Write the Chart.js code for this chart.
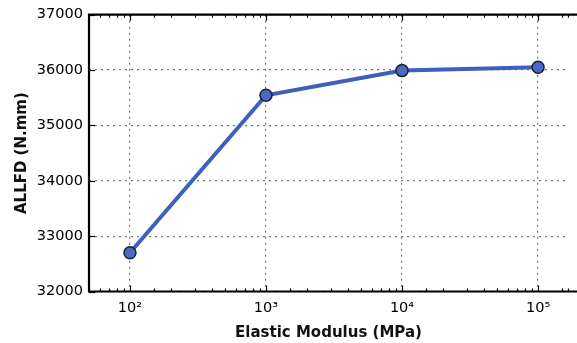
<!DOCTYPE html>
<html>
<head>
<meta charset="utf-8">
<script src="https://cdn.jsdelivr.net/npm/chart.js@4"></script>
<style>
  html, body { margin: 0; padding: 0; background: #fff; }
  #wrap { width: 577px; height: 343px; }
</style>
</head>
<body>
<div id="wrap"><canvas id="grafico"></canvas></div>
<script>
// dados
const modulos = [100, 1000, 10000, 100000];
const allfd = [32700, 35545, 35990, 36050];
const yTicks = [32000, 33000, 34000, 35000, 36000, 37000];
const sup = { '2': '²', '3': '³', '4': '⁴', '5': '⁵' };

const isDecade = v => Math.abs(Math.log10(v) - Math.round(Math.log10(v))) < 1e-9;

// desenha moldura e ticks internos (estilo matplotlib)
const molduraPlugin = {
    id: 'moldura',
    afterDraw(chart) {
        const { ctx, chartArea: a, scales } = chart;
        ctx.save();
        ctx.strokeStyle = '#000';
        ctx.lineWidth = 1.2;
        scales.x.ticks.forEach(t => {
            const px = Math.round(scales.x.getPixelForValue(t.value)) + 0.5;
            const len = isDecade(t.value) ? 6 : 3;
            ctx.beginPath();
            ctx.moveTo(px, a.bottom); ctx.lineTo(px, a.bottom - len);
            ctx.moveTo(px, a.top); ctx.lineTo(px, a.top + len);
            ctx.stroke();
        });
        yTicks.forEach(v => {
            const py = Math.round(scales.y.getPixelForValue(v)) + 0.5;
            ctx.beginPath();
            ctx.moveTo(a.left, py); ctx.lineTo(a.left + 6, py);
            ctx.stroke();
        });
        ctx.lineWidth = 2.2;
        ctx.beginPath();
        ctx.moveTo(a.right + 10, a.top);
        ctx.lineTo(a.left, a.top);
        ctx.lineTo(a.left, a.bottom);
        ctx.lineTo(a.right + 10, a.bottom);
        ctx.stroke();
        ctx.restore();
    }
};

const ctx = document.getElementById('grafico').getContext('2d');
new Chart(ctx, {
    type: 'line',
    data: {
        datasets: [{
            data: modulos.map((m, i) => ({ x: m, y: allfd[i] })),
            borderColor: '#3d5fbd',
            borderWidth: 4,
            pointRadius: 6,
            pointBackgroundColor: '#4a69c2',
            pointBorderColor: '#1a2333',
            pointBorderWidth: 1.5,
            tension: 0
        }]
    },
    plugins: [molduraPlugin],
    options: {
        responsive: true,
        maintainAspectRatio: false,
        animation: false,
        layout: { padding: { top: 14, right: 0, left: 0, bottom: 1 } },
        plugins: { legend: { display: false }, tooltip: { enabled: false } },
        scales: {
            x: {
                type: 'logarithmic',
                min: 50,
                max: 166000,
                border: { display: false, dash: [2, 4] },
                grid: {
                    drawTicks: false,
                    color: c => (c.tick && isDecade(c.tick.value)) ? '#777' : 'rgba(0,0,0,0)',
                    lineWidth: 1.2
                },
                ticks: {
                    autoSkip: false,
                    maxRotation: 0,
                    padding: 9,
                    color: '#000',
                    font: { family: 'DejaVu Sans', size: 14.5, lineHeight: 1 },
                    callback: v => isDecade(v) ? '10' + sup[String(Math.round(Math.log10(v)))] : ''
                },
                title: {
                    display: true,
                    text: 'Elastic Modulus (MPa)',
                    color: '#111',
                    font: { family: 'DejaVu Sans', size: 15, weight: 'bold' },
                    padding: { top: 0, bottom: 0 }
                }
            },
            y: {
                min: 32000,
                max: 37000,
                afterBuildTicks: s => { s.ticks = yTicks.map(v => ({ value: v })); },
                afterFit: s => { s.width = 89; },
                border: { display: false, dash: [2, 4] },
                grid: { drawTicks: false, color: '#777', lineWidth: 1.2 },
                ticks: {
                    padding: 6,
                    color: '#000',
                    font: { family: 'DejaVu Sans', size: 14.5 },
                    callback: v => String(v)
                },
                title: {
                    display: true,
                    text: 'ALLFD (N.mm)',
                    color: '#111',
                    font: { family: 'DejaVu Sans', size: 15, weight: 'bold' },
                    padding: { top: 13, bottom: 0 }
                }
            }
        }
    }
});
</script>
</body>
</html>
